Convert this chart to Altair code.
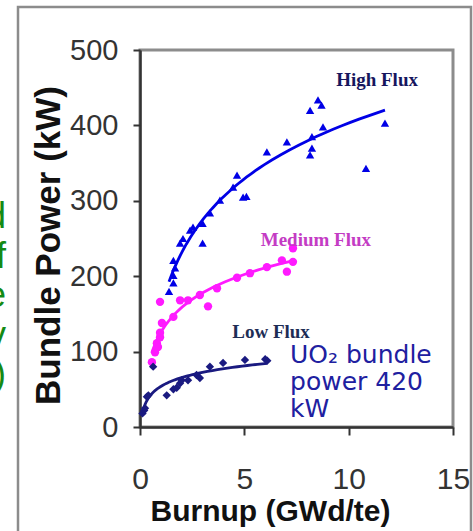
import altair as alt
import pandas as pd

# ---- data ----
series_names = ["High Flux", "Medium Flux", "Low Flux"]

high_burnup = [1.39, 1.6, 1.6, 1.68, 1.6, 1.92, 2.06, 2.4, 2.54, 3.0, 3.0, 3.35,
               3.83, 4.46, 4.65, 4.94, 5.1, 6.08, 7.04, 8.15, 8.24, 8.24, 8.77,
               8.15, 8.53, 8.7, 10.83, 11.74]
high_power = [180, 191, 201, 211, 221, 244, 250, 261, 265, 270, 244, 284,
              301, 318, 334, 305, 306, 365, 378, 361, 370, 385, 398,
              420, 434, 427, 343, 403]

med_burnup = [0.57, 0.72, 0.81, 0.86, 0.96, 0.96, 1.05, 0.96, 1.6, 1.92, 2.3,
              2.87, 3.26, 3.69, 4.65, 5.27, 6.08, 6.8, 7.04, 7.33, 7.33]
med_power = [86, 99, 111, 106, 119, 125, 138, 166, 146, 168, 168,
             175, 160, 184, 198, 204, 212, 221, 206, 219, 237]

low_burnup = [0.12, 0.2, 0.24, 0.33, 0.4, 0.63, 1.28, 1.6, 1.76, 1.92, 2.0, 2.3,
              2.71, 2.87, 3.35, 3.98, 5.03, 6.0, 6.1]
low_power = [18, 22, 25, 40, 42, 80, 42, 50, 52, 58, 62, 62,
             69, 65, 80, 85, 89, 90, 88]

x_ticks = [0, 5, 10, 15]
y_ticks = [0, 100, 200, 300, 400, 500]

label_texts = ["High Flux", "Medium Flux", "Low Flux"]
label_burnup = [11.36, 8.43, 6.28]
label_power = [452, 240, 118]

note_text = "UO\u2082 bundle\npower 420\nkW"
note_burnup = [7.19]
note_power = [85]

side_text = "d\nf\ne\ny\n)"

# ---- styles ----
series_colors = ["#0000e6", "#ff1aff", "#1a1a80"]
series_shapes = ["triangle-up", "circle", "diamond"]
label_colors = ["#16165e", "#c43cc4", "#1d2d55"]

rows = []
for name, xs, ys in zip(series_names,
                        [high_burnup, med_burnup, low_burnup],
                        [high_power, med_power, low_power]):
    for xv, yv in zip(xs, ys):
        rows.append({"series": name, "burnup": xv, "power": yv})
df = pd.DataFrame(rows)

labels_df = pd.DataFrame({"text": label_texts, "burnup": label_burnup,
                          "power": label_power, "col": label_colors})
note_df = pd.DataFrame({"text": [note_text], "burnup": note_burnup, "power": note_power})
one_row = pd.DataFrame({"a": [0]})

x_scale = alt.Scale(domain=[0, 15], nice=False, zero=False)
y_scale = alt.Scale(domain=[0, 500], nice=False)

x_axis = alt.Axis(values=x_ticks, grid=False, tickSize=8, tickWidth=2, tickColor="#333333",
                  domainColor="#333333", domainWidth=2.5,
                  labelFont="Liberation Sans", labelFontSize=30, labelColor="#333333",
                  labelBaseline="alphabetic", labelPadding=53, labelFlush=False,
                  labelOverlap=False,
                  titleFont="Liberation Sans", titleFontSize=30, titleFontWeight="bold",
                  titleColor="#111111", titleBaseline="alphabetic", titleX=130, titleY=93,
                  titleAlign="center")
y_axis = alt.Axis(values=y_ticks, grid=False, tickSize=7, tickWidth=2, tickColor="#333333",
                  domainColor="#333333", domainWidth=2.5,
                  labelFont="Liberation Sans", labelFontSize=29, labelColor="#333333",
                  labelBaseline="middle", labelPadding=15, labelFlush=False,
                  labelOverlap=False,
                  titleFont="Liberation Sans", titleFontSize=35, titleFontWeight="bold",
                  titleColor="#111111", titleAngle=270, titleBaseline="alphabetic",
                  titleX=-81, titleY=195, titleAlign="center")

X = alt.X("burnup:Q", scale=x_scale, axis=x_axis, title="Burnup (GWd/te)")
Y = alt.Y("power:Q", scale=y_scale, axis=y_axis, title="Bundle Power (kW)")

color = alt.Color("series:N", scale=alt.Scale(domain=series_names, range=series_colors),
                  legend=None)

frame = alt.Chart(one_row).mark_rect(fillOpacity=0, stroke="#8c8c8c", strokeWidth=2.5).encode(
    x=alt.value(-122), x2=alt.value(331), y=alt.value(-43), y2=alt.value(520))

side = alt.Chart(one_row).mark_text(
    text=side_text, align="right", baseline="alphabetic", font="Liberation Sans",
    fontSize=36, color="#148a14", lineBreak="\n", lineHeight=39.5
).encode(x=alt.value(-134), y=alt.value(178))

lines = alt.Chart(df).transform_regression(
    "burnup", "power", groupby=["series"], method="log"
).mark_line(strokeWidth=2.8).encode(x=X, y=Y, color=color)

points = alt.Chart(df).mark_point(filled=True, size=70, opacity=1).encode(
    x=X, y=Y, color=color,
    shape=alt.Shape("series:N", scale=alt.Scale(domain=series_names, range=series_shapes),
                    legend=None))

labels = alt.Chart(labels_df).mark_text(
    font="Liberation Serif", fontSize=19, fontWeight="bold", align="center",
    baseline="alphabetic"
).encode(x=X, y=Y, text="text:N", color=alt.Color("col:N", scale=None))

note = alt.Chart(note_df).mark_text(
    font="DejaVu Sans", fontSize=25, color="#2020a0", align="left", baseline="alphabetic",
    lineBreak="\n", lineHeight=27
).encode(x=X, y=Y, text="text:N")

chart = alt.layer(frame, side, lines, points, labels, note).properties(
    width=313, height=377,
    autosize=alt.AutoSizeParams(type="none"),
    padding={"left": 140, "top": 50, "right": 20, "bottom": 104},
    background="white",
).configure_view(stroke="#8c8c8c", strokeWidth=3)

chart.save("out.html", embed_options={"renderer": "svg", "actions": False})
